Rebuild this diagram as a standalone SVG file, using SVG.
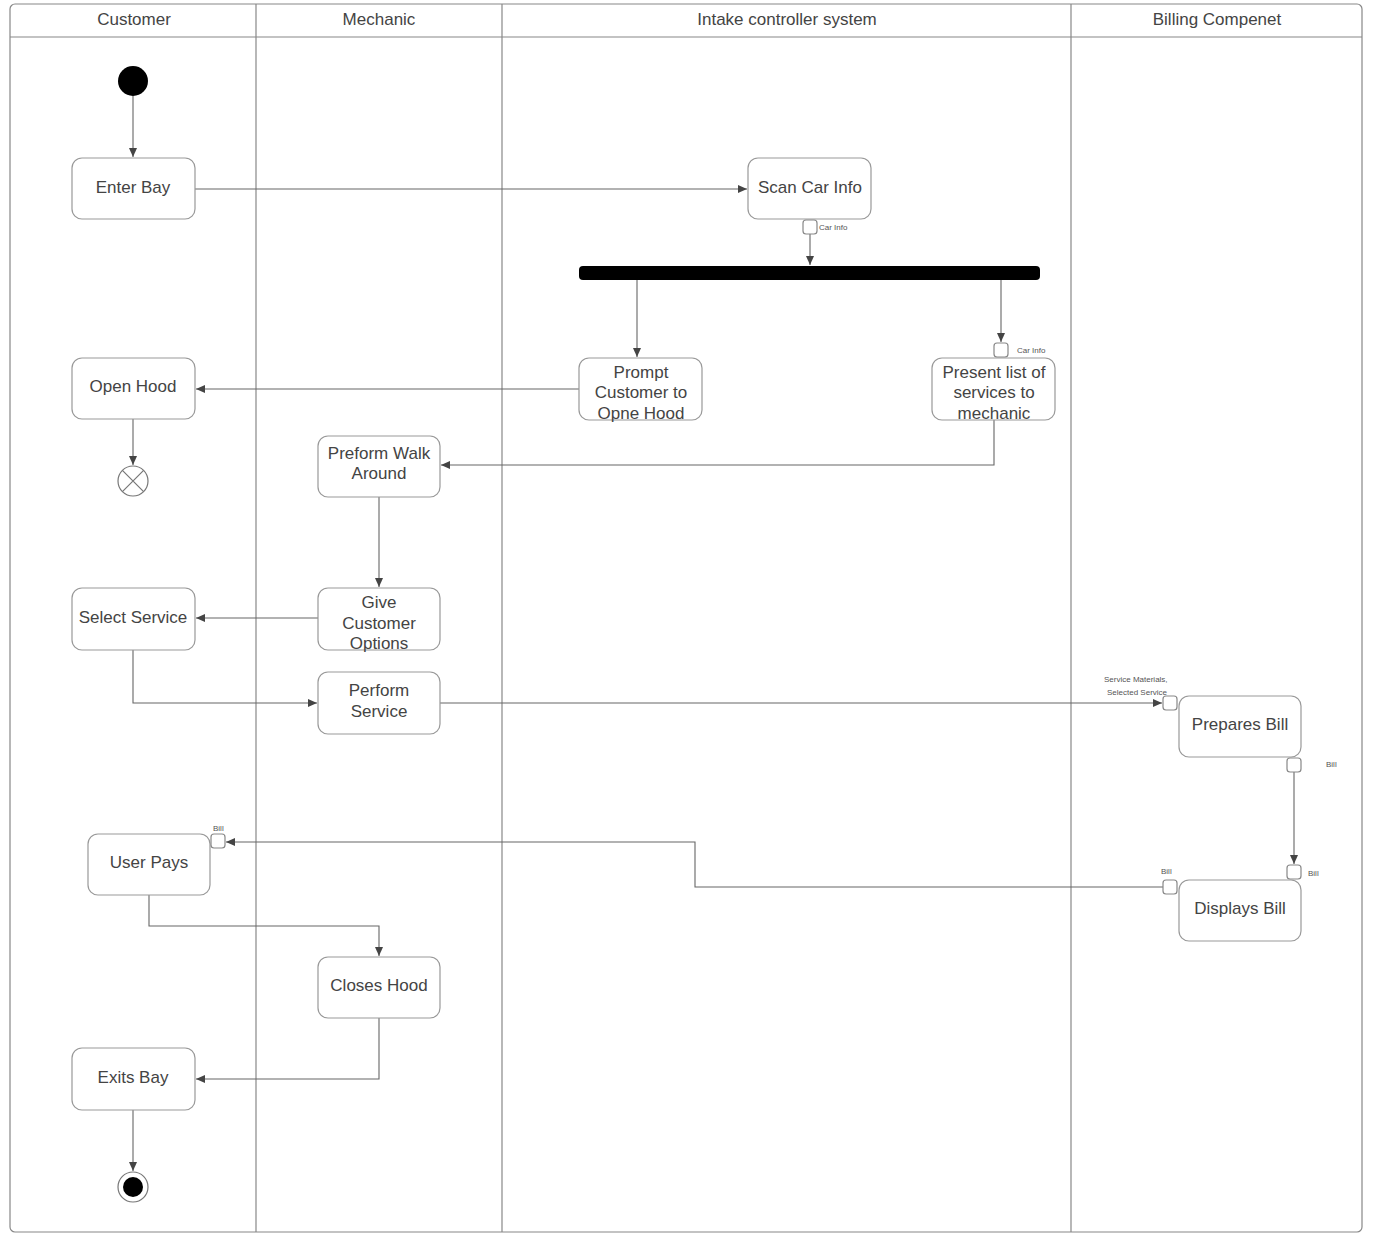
<svg xmlns="http://www.w3.org/2000/svg" width="1379" height="1244" viewBox="0 0 1379 1244">
<style>
.lane{fill:none;stroke:#888;stroke-width:1.2}
.node rect.act{fill:#fff;stroke:#999;stroke-width:1.2}
.t{font-family:"Liberation Sans",Arial,sans-serif;font-size:17px;fill:#444;text-anchor:middle}
.h{font-family:"Liberation Sans",Arial,sans-serif;font-size:17px;fill:#444;text-anchor:middle}
.s{font-family:"Liberation Sans",Arial,sans-serif;font-size:8px;fill:#555}
.pin{fill:#fff;stroke:#888;stroke-width:1.2}
.c{fill:none;stroke:#666;stroke-width:1.1;marker-end:url(#ah)}
</style>
<defs>
<marker id="ah" markerWidth="10" markerHeight="8" refX="9" refY="4" orient="auto" markerUnits="userSpaceOnUse">
<path d="M0,0 L9,4 L0,8 Z" fill="#444"/>
</marker>
</defs>
<rect width="1379" height="1244" fill="#fff"/>
<g id="lanes">
<rect class="lane" x="10" y="4" width="1352" height="1228" rx="5"/>
<line class="lane" x1="10" y1="37" x2="1362" y2="37"/>
<line class="lane" x1="256" y1="4" x2="256" y2="1232"/>
<line class="lane" x1="502" y1="4" x2="502" y2="1232"/>
<line class="lane" x1="1071" y1="4" x2="1071" y2="1232"/>
<text class="h" x="134" y="25">Customer</text>
<text class="h" x="379" y="25">Mechanic</text>
<text class="h" x="787" y="25">Intake controller system</text>
<text class="h" x="1217" y="25">Billing Compenet</text>
</g>
<g id="connectors">
<path class="c" d="M133,96 V157"/>
<path class="c" d="M195,189 H747"/>
<path class="c" d="M810,234 V265"/>
<path class="c" d="M637,280 V357"/>
<path class="c" d="M1001,280 V342"/>
<path class="c" d="M579,389 H196"/>
<path class="c" d="M133,419 V465"/>
<path class="c" d="M994,420 V465 H441"/>
<path class="c" d="M379,497 V587"/>
<path class="c" d="M318,618 H196"/>
<path class="c" d="M133,650 V703 H317"/>
<path class="c" d="M440,703 H1162"/>
<path class="c" d="M1294,772 V864"/>
<path class="c" d="M1163,887 H695 V842 H226"/>
<path class="c" d="M149,895 V926 H379 V956"/>
<path class="c" d="M379,1018 V1079 H196"/>
<path class="c" d="M133,1110 V1171"/>
</g>
<g id="start"><circle cx="133" cy="81" r="15" fill="#000"/></g>
<g id="enter-bay" class="node"><rect class="act" x="72" y="158" width="123" height="61" rx="10"/><text class="t" x="133" y="193">Enter Bay</text></g>
<g id="scan-car-info" class="node"><rect class="act" x="748" y="158" width="123" height="61" rx="10"/><text class="t" x="810" y="193">Scan Car Info</text>
<rect class="pin" x="803" y="220" width="14" height="14" rx="3"/><text class="s" x="819" y="230">Car Info</text></g>
<g id="fork"><rect x="579" y="266" width="461" height="14" rx="4" fill="#000"/></g>
<g id="prompt" class="node"><rect class="act" x="579" y="358" width="123" height="62" rx="10"/><text class="t" x="641" y="378">Prompt</text><text class="t" x="641" y="398">Customer to</text><text class="t" x="641" y="419">Opne Hood</text></g>
<g id="present" class="node"><rect class="act" x="932" y="358" width="123" height="62" rx="10"/><text class="t" x="994" y="378">Present list of</text><text class="t" x="994" y="398">services to</text><text class="t" x="994" y="419">mechanic</text>
<rect class="pin" x="994" y="343" width="14" height="14" rx="3"/><text class="s" x="1017" y="353">Car Info</text></g>
<g id="open-hood" class="node"><rect class="act" x="72" y="358" width="123" height="61" rx="10"/><text class="t" x="133" y="392">Open Hood</text></g>
<g id="flow-final"><circle cx="133" cy="481" r="15" fill="#fff" stroke="#777" stroke-width="1.2"/><path d="M122.4,470.4 L143.6,491.6 M143.6,470.4 L122.4,491.6" stroke="#777" stroke-width="1.2"/></g>
<g id="walk-around" class="node"><rect class="act" x="318" y="436" width="122" height="61" rx="10"/><text class="t" x="379" y="459">Preform Walk</text><text class="t" x="379" y="479">Around</text></g>
<g id="give-options" class="node"><rect class="act" x="318" y="588" width="122" height="62" rx="10"/><text class="t" x="379" y="608">Give</text><text class="t" x="379" y="629">Customer</text><text class="t" x="379" y="649">Options</text></g>
<g id="select-service" class="node"><rect class="act" x="72" y="588" width="123" height="62" rx="10"/><text class="t" x="133" y="623">Select Service</text></g>
<g id="perform-service" class="node"><rect class="act" x="318" y="672" width="122" height="62" rx="10"/><text class="t" x="379" y="696">Perform</text><text class="t" x="379" y="717">Service</text></g>
<g id="prepares-bill" class="node"><rect class="act" x="1179" y="696" width="122" height="61" rx="10"/><text class="t" x="1240" y="730">Prepares Bill</text>
<rect class="pin" x="1163" y="696" width="14" height="14" rx="3"/><text class="s" x="1104" y="682">Service  Materials,</text><text class="s" x="1107" y="695">Selected Service</text>
<rect class="pin" x="1287" y="758" width="14" height="14" rx="3"/><text class="s" x="1326" y="767">Bill</text></g>
<g id="displays-bill" class="node"><rect class="act" x="1179" y="880" width="122" height="61" rx="10"/><text class="t" x="1240" y="914">Displays Bill</text>
<rect class="pin" x="1287" y="865" width="14" height="14" rx="3"/><text class="s" x="1308" y="876">Bill</text>
<rect class="pin" x="1163" y="880" width="14" height="14" rx="3"/><text class="s" x="1161" y="874">Bill</text></g>
<g id="user-pays" class="node"><rect class="act" x="88" y="834" width="122" height="61" rx="10"/><text class="t" x="149" y="868">User Pays</text>
<rect class="pin" x="211" y="834" width="14" height="14" rx="3"/><text class="s" x="213" y="831">Bill</text></g>
<g id="closes-hood" class="node"><rect class="act" x="318" y="957" width="122" height="61" rx="10"/><text class="t" x="379" y="991">Closes Hood</text></g>
<g id="exits-bay" class="node"><rect class="act" x="72" y="1048" width="123" height="62" rx="10"/><text class="t" x="133" y="1083">Exits Bay</text></g>
<g id="end"><circle cx="133" cy="1187" r="15" fill="#fff" stroke="#777" stroke-width="1.2"/><circle cx="133" cy="1187" r="10" fill="#000"/></g>
</svg>
